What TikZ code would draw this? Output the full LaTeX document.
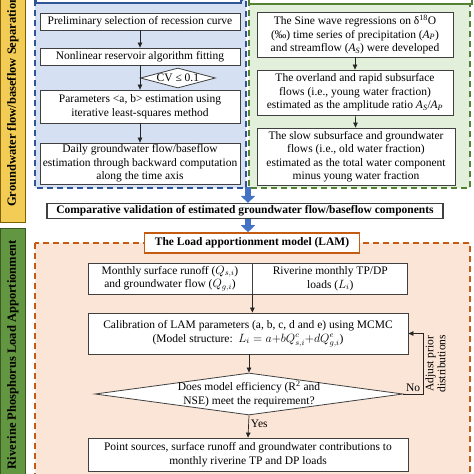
\documentclass[tikz,border=0pt]{standalone}
\usepackage{fontspec}
\setmainfont{Liberation Serif}
\usepackage{tikz}
\usetikzlibrary{arrows.meta, positioning, shapes.geometric}
\definecolor{boxline}{RGB}{64, 64, 64}
\definecolor{bluefill}{RGB}{214, 224, 243}
\definecolor{bluedash}{RGB}{47, 85, 151}
\definecolor{greenfill}{RGB}{226, 239, 218}
\definecolor{greendash}{RGB}{84, 130, 53}
\definecolor{orangefill}{RGB}{251, 229, 214}
\definecolor{orangedash}{RGB}{197, 90, 17}
\definecolor{arrblue}{RGB}{68, 114, 196}
\definecolor{stripyellow}{RGB}{242, 204, 84}
\definecolor{stripyellowline}{RGB}{127, 96, 0}
\definecolor{stripgreen}{RGB}{98, 150, 64}
\definecolor{stripgreenline}{RGB}{56, 87, 35}

\begin{document}
\begin{tikzpicture}[
    x=1pt, y=-1pt,
    font=\fontsize{11.5}{13.5}\selectfont,
    box/.style={rectangle, draw=boxline, fill=white, line width=0.8pt,
                align=center, inner sep=1pt},
    decision/.style={diamond, draw=boxline, fill=white, line width=0.8pt,
                     inner sep=0pt},
    arr/.style={-{Triangle[length=5pt, width=4.5pt]}, line width=0.7pt, draw=black!85},
    bigarr/.style={-{Triangle[length=7pt, width=14pt]}, line width=6pt, draw=arrblue},
    region/.style={dash pattern=on 6pt off 4pt, line width=1.4pt},
    sidetext/.style={rotate=90, font=\fontsize{12.5}{14}\selectfont\bfseries, inner sep=0pt},
    adjust/.style={rotate=90, anchor=north, align=center, inner sep=2pt,
                   font=\fontsize{11.5}{12}\selectfont}
]
    \useasboundingbox (0,0) rectangle (474,474);
    \clip (0,0) rectangle (474,474);

    % side strips
    \draw[fill=stripyellow, draw=stripyellowline, line width=1pt] (0.5,-5) rectangle (25,222);
    \node[sidetext, anchor=west] (septitle) at (12.75,207) {Groundwater flow/baseflow Separation};
    \draw[fill=stripgreen, draw=stripgreenline, line width=1pt] (0.5,228) rectangle (25,480);
    \node[sidetext, anchor=east] (laptitle) at (12.75,240) {Riverine Phosphorus Load Apportionment};

    % dashed regions
    \draw[region, draw=bluedash, fill=bluefill] (35,0) rectangle (246,188);
    \draw[bluedash, fill=white, line width=1.5pt] (36,-30) rectangle (241,3);
    \draw[region, draw=greendash, fill=greenfill] (249,0) rectangle (470,188);
    \draw[greendash, fill=white, line width=1.5pt] (249,-30) rectangle (472,4);
    \draw[region, draw=orangedash, fill=orangefill] (35,243) rectangle (470,500);

    % baseflow separation (left)
    \node[box, minimum width=200pt, minimum height=17pt] (pre) at (140,21.5) {Preliminary selection of recession curve};
    \node[box, minimum width=200pt, minimum height=17pt] (fit) at (140,56.5) {Nonlinear reservoir algorithm fitting};
    \node[box, minimum width=200pt, minimum height=33pt] (est) at (140,106.5) {Parameters <a, b> estimation using\\iterative least-squares method};
    \node[box, minimum width=200pt, minimum height=41pt] (daily) at (140,163.5) {Daily groundwater flow/baseflow\\estimation through backward computation\\along the time axis};
    \node[decision, minimum width=75pt, minimum height=20pt, anchor=west,
          label={center:CV ≤ 0.1}] (cv) at (140,78) {};

    % isotope method (right)
    \node[box, minimum width=196pt, minimum height=45pt] (sine) at (355,34.5) {The Sine wave regressions on δ\textsuperscript{18}O\\(‰) time series of precipitation (\textit{A\textsubscript{P}})\\and streamflow (\textit{A\textsubscript{S}}) were developed};
    \node[box, minimum width=196pt, minimum height=45pt] (young) at (355,92.5) {The overland and rapid subsurface\\flows (i.e., young water fraction)\\estimated as the amplitude ratio \textit{A\textsubscript{S}}/\textit{A\textsubscript{P}}};
    \node[box, minimum width=198pt, minimum height=57pt] (old) at (356,156.5) {The slow subsurface and groundwater\\flows (i.e., old water fraction)\\estimated as the total water component\\minus young water fraction};

    \draw[arr] (pre) -- (fit);
    \draw[arr] (fit) -- (est);
    \draw[arr] (est) -- (daily);
    \draw[arr] (sine) -- (young);
    \draw[arr] (young) -- (old);

    % validation
    \node[box, line width=1.2pt, minimum width=396pt, minimum height=15pt, inner sep=0.5pt,
          font=\fontsize{11.5}{13.5}\selectfont\bfseries] (cmp) at (245,211) {Comparative validation of estimated groundwater flow/baseflow components};
    \node[box, draw=orangedash, line width=1.6pt, minimum width=215pt, minimum height=20pt,
          font=\fontsize{11.5}{13.5}\selectfont\bfseries] (lam) at (252,243) {The Load apportionment model (LAM)};
    \coordinate (sepbase) at (248,187);
    \draw[bigarr] (sepbase) -- (sepbase |- cmp.north);
    \draw[bigarr] (cmp.south -| sepbase) -- (sepbase |- lam.north);

    % load apportionment
    \node[box, minimum width=164pt, minimum height=31pt] (runoff) at (170,278.5) {Monthly surface runoff ($Q_{s,i}$)\\and groundwater flow ($Q_{g,i}$)};
    \node[box, minimum width=155pt, minimum height=31pt, anchor=west] (loads) at (runoff.east) {Riverine monthly TP/DP\\loads ($L_i$)};
    \node[box, minimum width=320pt, minimum height=41pt] (calib) at (248,333.5) {Calibration of LAM parameters (a, b, c, d and e) using MCMC\\(Model structure:\ \ $L_i = a{+}bQ^{c}_{s,i}{+}dQ^{e}_{g,i}$)};
    \node[decision, minimum width=308pt, minimum height=42pt,
          label={[align=center]center:{Does model efficiency (R\textsuperscript{2} and\\NSE) meet the requirement?}}] (check) at (249,394) {};
    \node[box, minimum width=320pt, minimum height=33pt] (final) at (248,454.5) {Point sources, surface runoff and groundwater contributions to\\monthly riverine TP and DP loads};
    \coordinate (fbcorner) at (423,333.5);

    \draw[arr] (runoff.south east) -- (runoff.south east |- calib.north);
    \draw[arr] (calib.south -| check.north) -- (check.north);
    \draw[arr] (check.south) -- node[right, pos=0.4, inner sep=2pt] {Yes} (final.north);
    \draw[arr] (check.east) -| node[pos=0.25, above, inner sep=2pt] {No}
        node[pos=0.75, adjust] {Adjust prior\\distributions} (fbcorner) -- (calib.east);
\end{tikzpicture}
\end{document}
